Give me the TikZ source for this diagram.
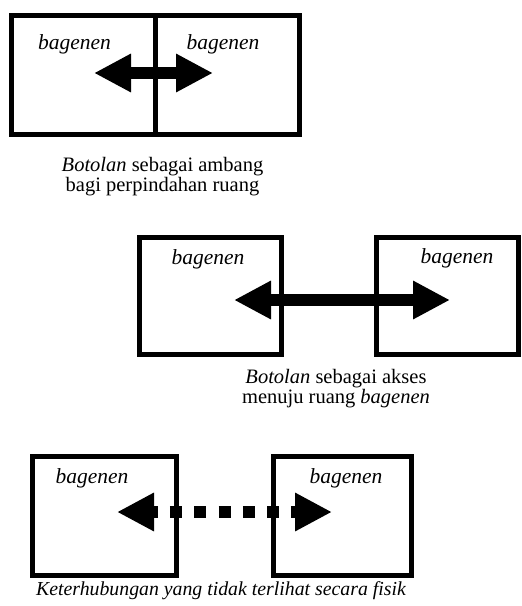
\documentclass[tikz,border=0pt]{standalone}
\usepackage{fontspec}
\setmainfont{Liberation Serif}
\usetikzlibrary{arrows.meta, positioning}
\tikzset{
	ruang/.style={draw, line width=5pt, rectangle, inner sep=0pt},
	ujung/.tip={Triangle[length=37pt,width=36pt]},
	panah/.style={line width=12pt, ujung-ujung},
	teks/.style={font=\fontsize{20.5}{17.5}\selectfont, inner sep=0pt, anchor=base},
	nama/.style={teks, font=\fontsize{21.5}{18}\selectfont\itshape},
}

\begin{document}
\begin{tikzpicture}[x=1pt,y=-1pt]
		\useasboundingbox (0,0) rectangle (522,606);
		
		% ambang: dua ruang berdempet
		\node [ruang, minimum width=144pt, minimum height=119pt] (b1l) at (83,74.5) {};
		\node [ruang, minimum width=144pt, minimum height=119pt] (b1r) at (227,74.5) {};
		\node [nama] (t1l) at (74.5,49) {bagenen};
		\node [nama] (t1r) at (223,49) {bagenen};
		\coordinate (p1l) at (94,73);
		\coordinate (p1r) at (213,73);
		\draw [panah] (p1l)--(p1r);
		\node [teks, align=center] (c1) at (162.5,191) {\textit{Botolan} sebagai ambang\\bagi perpindahan ruang};
		
		% akses: dua ruang terpisah
		\node [ruang, minimum width=142pt, minimum height=117pt] (b2l) at (210,295.5) {};
		\node [ruang, minimum width=142pt, minimum height=117pt] (b2r) at (447.5,295.5) {};
		\node [nama] (t2l) at (208,264) {bagenen};
		\node [nama] (t2r) at (457,263) {bagenen};
		\coordinate (p2l) at (234,300);
		\coordinate (p2r) at (450,300);
		\draw [panah] (p2l)--(p2r);
		\node [teks, align=center] (c2) at (336,403) {\textit{Botolan} sebagai akses\\menuju ruang \textit{bagenen}};
		
		% tidak terlihat
		\node [ruang, minimum width=144pt, minimum height=119pt] (b3l) at (104,515.5) {};
		\node [ruang, minimum width=138pt, minimum height=119pt] (b3r) at (342,515.5) {};
		\node [nama] (t3l) at (92,483) {bagenen};
		\node [nama] (t3r) at (346,483) {bagenen};
		\coordinate (p3l) at (117,512);
		\coordinate (p3r) at (332,512);
		\draw [panah, dash pattern=on 12pt off 12.3pt, dash phase=6pt] (p3l)--(p3r);
		\node [teks, font=\fontsize{19.8}{17}\selectfont\itshape] (c3) at (221,595) {Keterhubungan yang tidak terlihat secara fisik};
		
\end{tikzpicture}
\end{document}
